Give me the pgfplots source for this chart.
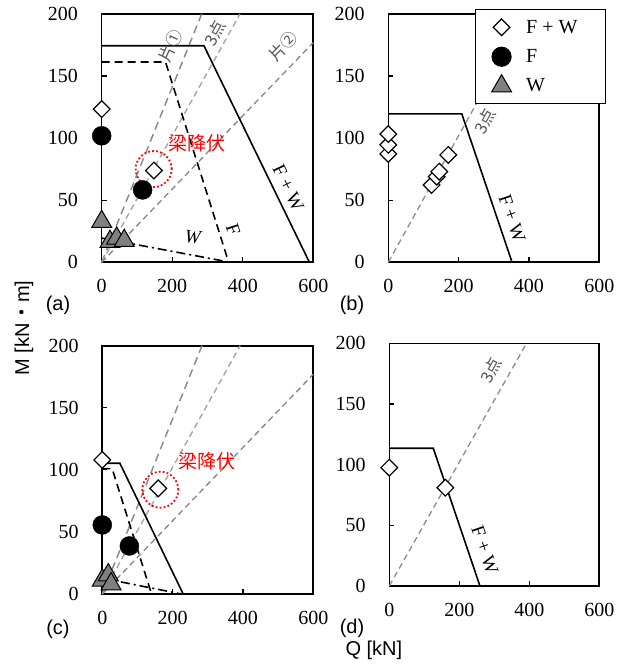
\documentclass[border=0pt]{standalone}
\usepackage{fontspec}
\setmainfont{Liberation Serif}
\newfontfamily\arial{Liberation Sans}
\newfontfamily\cjk{Noto Sans CJK JP}
\usepackage{pgfplots}
\pgfplotsset{compat=1.18}
\definecolor{gA}{HTML}{8C8C8C}
\definecolor{gB}{HTML}{A6A6A6}
\definecolor{gC}{HTML}{858585}
\definecolor{tri}{HTML}{808080}
\definecolor{lblgray}{HTML}{555555}
\pgfplotsset{
  panel/.style={scale only axis, anchor=south west,
    xmin=0,xmax=600,ymin=0,ymax=200,
    xtick={0,200,400,600}, ytick={0,50,100,150,200},
    axis line style={line width=1.6pt},
    tick style={black, line width=1.3pt}, major tick length=5pt,
    tick align=inside, tick pos=left,
    /pgf/number format/assume math mode=true,
    ticklabel style={font=\fontsize{20}{20}\selectfont},
    xticklabel style={anchor=center, yshift=-24pt},
    yticklabel style={anchor=east, inner sep=0pt, xshift=-23.5pt},
    clip=false},
  l1/.style={color=gA, line width=1.5pt, dash pattern=on 8pt off 5pt, forget plot},
  l2/.style={color=gB, line width=1.4pt, dash pattern=on 6pt off 4pt, forget plot},
  l3/.style={color=gC, line width=1.3pt, dash pattern=on 6pt off 4pt, forget plot},
  fw/.style={black, line width=1.6pt, forget plot},
  fl/.style={black, line width=1.6pt, dash pattern=on 8pt off 5pt, forget plot},
  wl/.style={black, line width=1.6pt, dash pattern=on 9pt off 4pt on 2pt off 4pt, forget plot},
  redc/.style={only marks, mark=o, mark size=18pt, red, line width=1.8pt, dash pattern=on 1.8pt off 2.2pt, forget plot},
  mfw/.style={only marks, mark=square*, mark size=5.9pt, mark options={rotate=45, fill=white, draw=black, line width=1.2pt, solid}},
  mf/.style={only marks, mark=*, mark size=9.5pt, mark options={fill=black, draw=black, solid}},
  mw/.style={only marks, mark=triangle*, mark size=11.5pt, mark options={fill=tri, draw=black, line width=1pt, solid}},
}
\tikzset{
  lb/.style={font=\fontsize{19}{19}\selectfont},
  cj/.style={font=\cjk\fontsize{16.5}{16.5}\selectfont, text=lblgray},
  rd/.style={font=\cjk\fontsize{19}{19}\selectfont, text=red},
  pl/.style={font=\arial\fontsize{20}{20}\selectfont},
}
\begin{document}
\begin{tikzpicture}[x=1pt,y=1pt]
\useasboundingbox (0,0) rectangle (623,670);
% (a)
\begin{axis}[panel, at={(101.7pt,407.7pt)}, width=211.6pt, height=248.3pt]
\addplot[l1] coordinates {(0,0)(283.5,200)};
\addplot[l2] coordinates {(0,0)(392,200)};
\addplot[l3] coordinates {(0,0)(600,177)};
\addplot[fw] coordinates {(0,174.4)(290,174.4)(589,0)};
\addplot[fl] coordinates {(0,161.3)(181,161.3)(360,0)};
\addplot[wl] coordinates {(0,19.5)(365,0)};
\addplot[redc] coordinates {(147.4,75.1)};
\addplot[mfw] coordinates {(0,123.4)(148,73.9)};
\addplot[mf] coordinates {(0,101.9)(116,58.3)};
\addplot[mw] coordinates {(0,32.7)(23.5,16.6)(42.5,19.3)(64,17.4)};
\node[cj, rotate=66] at (axis cs:196,174) {片①};
\node[cj, rotate=61] at (axis cs:321,184.7) {3点};
\node[cj, rotate=46] at (axis cs:515,174) {片②};
\node[rd] at (axis cs:269,96) {梁降伏};
\node[lb, rotate=-64] at (axis cs:529,60) {F + W};
\node[lb, rotate=-72] at (axis cs:373,26) {F};
\node[lb, rotate=-5] at (axis cs:258,20.2) {\itshape W};
\end{axis}
% (b)
\begin{axis}[panel, at={(388.3pt,407.7pt)}, width=211pt, height=248.3pt,
  legend style={at={(0.411,1.02)}, anchor=north west, draw=black, line width=1.2pt, fill=white,
    inner xsep=16pt, inner ysep=3pt, row sep=0pt,
    nodes={draw=none, inner sep=0pt, minimum height=29.4pt, font=\fontsize{20}{20}\selectfont},
    /tikz/every odd column/.append style={column sep=14.7pt}},
  legend cell align=left,
  legend image code/.code={\draw[#1] plot coordinates {(0pt,0pt)};}]
\addplot[l2, color=gA, line width=1.3pt] coordinates {(0,0)(392,200)};
\addplot[fw] coordinates {(0,119.6)(209,119.6)(352,0)};
\addplot[mfw] coordinates {(0,87.3)(0,94.6)(0,103.3)(123,62.3)(137.6,69)(145,73)(170.6,86.5)};
\addlegendentry{\makebox[63pt][l]{F + W}}
\addlegendimage{mf}
\addlegendentry{F}
\addlegendimage{mw}
\addlegendentry{W}
\node[cj, rotate=61] at (axis cs:275,113.4) {3点};
\node[lb, rotate=-71] at (axis cs:352,35.5) {F + W};
\end{axis}
% (c)
\begin{axis}[panel, at={(102.3pt,76pt)}, width=211pt, height=248.3pt]
\addplot[l1] coordinates {(0,0)(283.5,200)};
\addplot[l2] coordinates {(0,0)(392,200)};
\addplot[l3] coordinates {(0,0)(600,177)};
\addplot[fw] coordinates {(0,105.3)(50,105.3)(230,0)};
\addplot[fl] coordinates {(0,101)(28,101)(140,0)};
\addplot[wl] coordinates {(0,12.7)(225,0)};
\addplot[redc] coordinates {(165,84)};
\addplot[mfw] coordinates {(0,108)(159,85.1)};
\addplot[mf] coordinates {(0,55.6)(77,38.7)};
\addplot[mw] coordinates {(0,11)(17,15.3)(25,8)};
\node[rd] at (axis cs:297,106.6) {梁降伏};
\end{axis}
% (d)
\begin{axis}[panel, at={(389.3pt,84pt)}, width=210pt, height=242.7pt]
\addplot[l2, color=gA, line width=1.3pt] coordinates {(0,0)(392,200)};
\addplot[fw] coordinates {(0,113.5)(125.7,113.5)(259,0)};
\addplot[mfw] coordinates {(0,97.5)(160,81)};
\node[cj, rotate=61] at (axis cs:290,177.4) {3点};
\node[lb, rotate=-71] at (axis cs:273,29.7) {F + W};
\end{axis}
\node[pl] at (58,365) {(a)};
\node[pl] at (352,365) {(b)};
\node[pl] at (58,41) {(c)};
\node[pl] at (352,42) {(d)};
\node[pl, anchor=west] at (342,20) {Q [kN]};
\node[pl, rotate=90] at (24,342) {M [kN{\cjk ・}m]};
\end{tikzpicture}
\end{document}
